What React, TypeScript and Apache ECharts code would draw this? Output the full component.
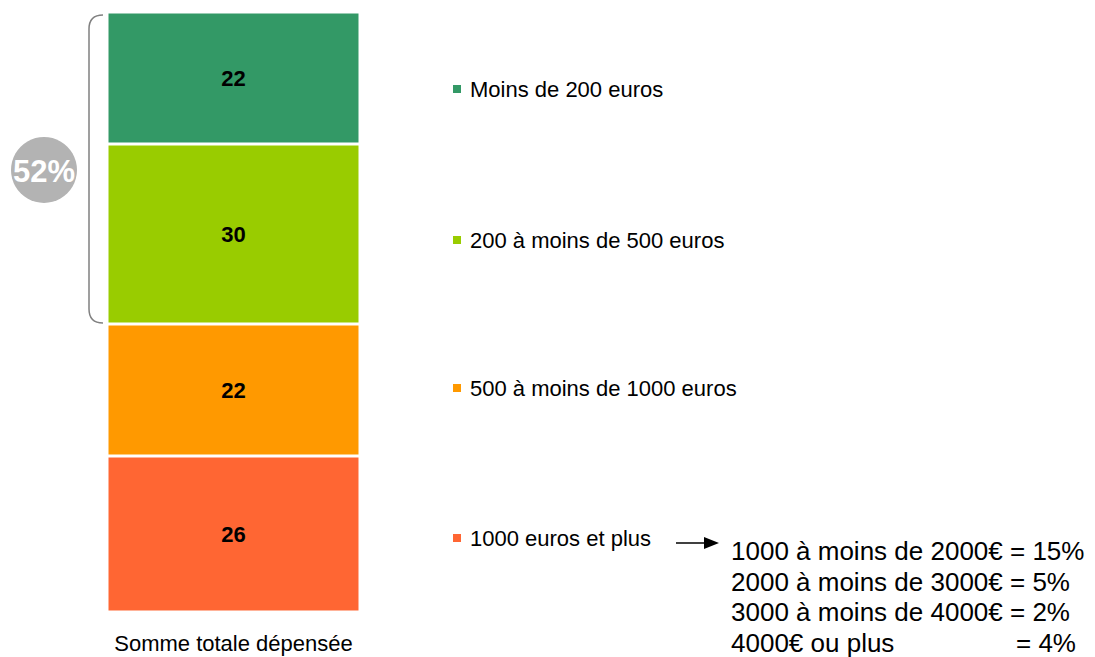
import React, { useEffect, useRef } from "react";
import * as echarts from "echarts";

const categories = ["Somme totale dépensée"];
const seriesNames = ["1000 euros et plus", "500 à moins de 1000 euros", "200 à moins de 500 euros", "Moins de 200 euros"];
const seriesValues = [26, 22, 30, 22];
const seriesColors = ["#FF6633", "#FF9900", "#99CC00", "#339966"];
const legendCenters = [538, 388, 240, 89];
const bracketLabel = "52%";
const detailLabels = ["1000 à moins de 2000€ = 15%", "2000 à moins de 3000€ = 5%", "3000 à moins de 4000€ = 2%", "4000€ ou plus"];
const lastDetailValue = "= 4%";

const FONT = "'Liberation Sans', Arial, sans-serif";

export default function App() {
  const ref = useRef<HTMLDivElement>(null);
  useEffect(() => {
    document.body.style.margin = "0";
    if (!ref.current) return;
    echarts.graphic.registerShape(
      "brace",
      echarts.graphic.extendPath("M 103 15 Q 89 15 89 29 L 89 309 Q 89 323 103 323", {})
    );
    const chart = echarts.init(ref.current, null, { renderer: "svg" });
    const series = seriesNames.map((name, i) => ({
      name,
      type: "bar",
      stack: "total",
      barWidth: "100%",
      data: [seriesValues[i]],
      itemStyle: { color: seriesColors[i], borderColor: "#ffffff", borderWidth: 1.5 },
      label: {
        show: true,
        position: "inside",
        color: "#000",
        fontWeight: "bold",
        fontSize: 22,
        fontFamily: FONT,
      },
    }));
    const legends = seriesNames.map((name, i) => ({
      data: [name],
      left: 451,
      top: legendCenters[i] - 11,
      padding: 0,
      orient: "vertical",
      icon: "rect",
      itemWidth: 10,
      itemHeight: 10,
      selectedMode: false,
      textStyle: { fontSize: 22, lineHeight: 22, color: "#000", fontFamily: FONT, padding: [0, 0, 0, 3] },
    }));
    const lineYs = [551, 582, 612, 643];
    const detailGraphics: any[] = detailLabels.map((t, i) => ({
      type: "text",
      x: 731,
      y: lineYs[i],
      style: { text: t, fontSize: 26, fill: "#000", fontFamily: FONT, verticalAlign: "middle" },
    }));
    detailGraphics.push({
      type: "text",
      x: 1016,
      y: lineYs[3],
      style: { text: lastDetailValue, fontSize: 26, fill: "#000", fontFamily: FONT, verticalAlign: "middle" },
    });
    chart.setOption({
      animation: false,
      grid: { left: 107, right: 735, top: 12, bottom: 45 },
      xAxis: {
        type: "category",
        data: categories,
        axisLine: { show: false },
        axisTick: { show: false },
        axisLabel: { fontSize: 22, color: "#000", fontFamily: FONT, margin: 20 },
      },
      yAxis: { type: "value", min: 0, max: 100, show: false },
      legend: legends,
      series,
      graphic: [
        {
          type: "brace",
          x: 0,
          y: 0,
          style: { stroke: "#808080", lineWidth: 1.5, fill: "none" },
        },
        {
          type: "circle",
          shape: { cx: 44, cy: 170, r: 33 },
          style: { fill: "#B3B3B3" },
        },
        {
          type: "text",
          x: 44,
          y: 171,
          style: {
            text: bracketLabel,
            fontSize: 31,
            fontWeight: "bold",
            fill: "#fff",
            align: "center",
            verticalAlign: "middle",
            fontFamily: FONT,
          },
        },
        {
          type: "line",
          shape: { x1: 676, y1: 543, x2: 708, y2: 543 },
          style: { stroke: "#000", lineWidth: 1.5 },
        },
        {
          type: "polygon",
          shape: { points: [[704, 537], [719, 543], [704, 549]] },
          style: { fill: "#000" },
        },
        ...detailGraphics,
      ],
    });
    return () => chart.dispose();
  }, []);
  return <div ref={ref} style={{ width: 1095, height: 657 }} />;
}
